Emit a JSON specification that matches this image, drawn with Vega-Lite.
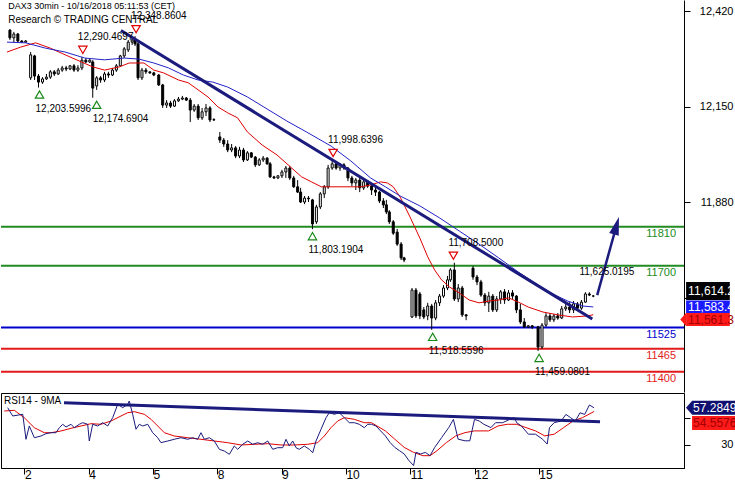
{
"$schema":"https://vega.github.io/schema/vega-lite/v6.json",
"padding":0,
"spacing":0,
"background":"white",
"config":{"font":"Liberation Sans","view":{"stroke":null},"axis":{"grid":false,"domainColor":"#000","tickColor":"#000","labelColor":"#000","labelFont":"Liberation Sans","labelFontSize":11}},
"resolve":{"scale":{"x":"independent","y":"independent","color":"independent"}},
"datasets":{
"candles":[
{"t":-0.302,"o":12366,"h":12369,"l":12338,"c":12344},
{"t":-0.240,"o":12344,"h":12361,"l":12332,"c":12355},
{"t":-0.177,"o":12355,"h":12358,"l":12332,"c":12335},
{"t":-0.115,"o":12335,"h":12338,"l":12330,"c":12332},
{"t":-0.053,"o":12332,"h":12338,"l":12330,"c":12335},
{"t":0.025,"o":12231,"h":12304,"l":12225,"c":12296},
{"t":0.087,"o":12293,"h":12296,"l":12225,"c":12236},
{"t":0.149,"o":12236,"h":12242,"l":12203.6,"c":12219},
{"t":0.212,"o":12219,"h":12233,"l":12214,"c":12228},
{"t":0.274,"o":12228,"h":12242,"l":12225,"c":12233},
{"t":0.336,"o":12233,"h":12253,"l":12228,"c":12248},
{"t":0.398,"o":12248,"h":12253,"l":12236,"c":12242},
{"t":0.460,"o":12242,"h":12259,"l":12239,"c":12253},
{"t":0.523,"o":12253,"h":12265,"l":12248,"c":12259},
{"t":0.585,"o":12259,"h":12265,"l":12250,"c":12256},
{"t":0.647,"o":12256,"h":12267,"l":12253,"c":12265},
{"t":0.709,"o":12265,"h":12270,"l":12248,"c":12253},
{"t":0.771,"o":12253,"h":12267,"l":12248,"c":12259},
{"t":0.834,"o":12259,"h":12290.5,"l":12253,"c":12281},
{"t":0.896,"o":12281,"h":12287,"l":12273,"c":12276},
{"t":0.958,"o":12276,"h":12284,"l":12273,"c":12281},
{"t":1.005,"o":12276,"h":12281,"l":12174.7,"c":12202},
{"t":1.067,"o":12208,"h":12236,"l":12197,"c":12231},
{"t":1.129,"o":12231,"h":12236,"l":12217,"c":12225},
{"t":1.191,"o":12225,"h":12248,"l":12219,"c":12242},
{"t":1.253,"o":12242,"h":12248,"l":12231,"c":12239},
{"t":1.316,"o":12239,"h":12259,"l":12236,"c":12253},
{"t":1.378,"o":12253,"h":12270,"l":12248,"c":12265},
{"t":1.440,"o":12265,"h":12296,"l":12262,"c":12293},
{"t":1.502,"o":12293,"h":12318,"l":12287,"c":12313},
{"t":1.565,"o":12310,"h":12338,"l":12304,"c":12332},
{"t":1.627,"o":12332,"h":12346,"l":12324,"c":12338},
{"t":1.673,"o":12338,"h":12348.9,"l":12321,"c":12327},
{"t":1.720,"o":12327,"h":12332,"l":12225,"c":12231},
{"t":1.782,"o":12231,"h":12259,"l":12225,"c":12253},
{"t":1.844,"o":12253,"h":12259,"l":12242,"c":12248},
{"t":1.907,"o":12248,"h":12248,"l":12242,"c":12245},
{"t":1.969,"o":12245,"h":12248,"l":12236,"c":12239},
{"t":2.047,"o":12239,"h":12242,"l":12208,"c":12211},
{"t":2.109,"o":12211,"h":12214,"l":12146,"c":12154},
{"t":2.171,"o":12154,"h":12168,"l":12146,"c":12160},
{"t":2.233,"o":12160,"h":12166,"l":12146,"c":12151},
{"t":2.295,"o":12151,"h":12171,"l":12149,"c":12166},
{"t":2.358,"o":12166,"h":12177,"l":12163,"c":12171},
{"t":2.420,"o":12171,"h":12180,"l":12168,"c":12174},
{"t":2.482,"o":12174,"h":12177,"l":12166,"c":12168},
{"t":2.544,"o":12168,"h":12174,"l":12106,"c":12140},
{"t":2.606,"o":12140,"h":12157,"l":12135,"c":12151},
{"t":2.669,"o":12151,"h":12157,"l":12112,"c":12118},
{"t":2.731,"o":12118,"h":12146,"l":12112,"c":12135},
{"t":2.793,"o":12135,"h":12157,"l":12123,"c":12146},
{"t":2.855,"o":12146,"h":12151,"l":12106,"c":12112},
{"t":2.917,"o":12112,"h":12117,"l":12109,"c":12113},
{"t":3.011,"o":12064,"h":12078,"l":12047,"c":12055},
{"t":3.073,"o":12055,"h":12061,"l":12036,"c":12044},
{"t":3.135,"o":12044,"h":12055,"l":12021,"c":12027},
{"t":3.197,"o":12027,"h":12044,"l":12021,"c":12033},
{"t":3.260,"o":12033,"h":12038,"l":12004,"c":12010},
{"t":3.322,"o":12010,"h":12036,"l":12004,"c":12027},
{"t":3.384,"o":12027,"h":12033,"l":11993,"c":11999},
{"t":3.446,"o":11999,"h":12024,"l":11996,"c":12019},
{"t":3.508,"o":12019,"h":12021,"l":12004,"c":12007},
{"t":3.571,"o":12007,"h":12010,"l":11979,"c":11985},
{"t":3.633,"o":11985,"h":12004,"l":11982,"c":11999},
{"t":3.695,"o":11999,"h":12010,"l":11993,"c":12004},
{"t":3.757,"o":12004,"h":12007,"l":11985,"c":11988},
{"t":3.804,"o":11988,"h":11993,"l":11948,"c":11951},
{"t":3.866,"o":11951,"h":11954,"l":11945,"c":11948},
{"t":3.928,"o":11948,"h":11956,"l":11945,"c":11954},
{"t":3.991,"o":11954,"h":11971,"l":11948,"c":11965},
{"t":4.053,"o":11965,"h":11982,"l":11948,"c":11976},
{"t":4.115,"o":11976,"h":11982,"l":11942,"c":11948},
{"t":4.177,"o":11948,"h":11954,"l":11920,"c":11923},
{"t":4.239,"o":11923,"h":11942,"l":11906,"c":11908},
{"t":4.286,"o":11908,"h":11920,"l":11877,"c":11880},
{"t":4.348,"o":11880,"h":11897,"l":11874,"c":11891},
{"t":4.410,"o":11891,"h":11897,"l":11880,"c":11889},
{"t":4.473,"o":11886,"h":11889,"l":11803.2,"c":11818},
{"t":4.535,"o":11824,"h":11872,"l":11818,"c":11866},
{"t":4.597,"o":11866,"h":11908,"l":11860,"c":11903},
{"t":4.659,"o":11903,"h":11928,"l":11891,"c":11923},
{"t":4.720,"o":11923,"h":11985,"l":11917,"c":11976},
{"t":4.784,"o":11976,"h":11998.6,"l":11971,"c":11988},
{"t":4.846,"o":11988,"h":11993,"l":11971,"c":11976},
{"t":4.908,"o":11976,"h":11990,"l":11968,"c":11985},
{"t":4.970,"o":11985,"h":11990,"l":11971,"c":11976},
{"t":5.033,"o":11976,"h":11979,"l":11939,"c":11948},
{"t":5.095,"o":11948,"h":11954,"l":11925,"c":11934},
{"t":5.157,"o":11934,"h":11948,"l":11914,"c":11942},
{"t":5.219,"o":11942,"h":11951,"l":11908,"c":11920},
{"t":5.281,"o":11920,"h":11948,"l":11914,"c":11937},
{"t":5.344,"o":11937,"h":11942,"l":11920,"c":11925},
{"t":5.406,"o":11925,"h":11934,"l":11900,"c":11914},
{"t":5.468,"o":11914,"h":11923,"l":11897,"c":11908},
{"t":5.530,"o":11908,"h":11911,"l":11877,"c":11883},
{"t":5.592,"o":11883,"h":11891,"l":11863,"c":11872},
{"t":5.639,"o":11872,"h":11886,"l":11846,"c":11852},
{"t":5.686,"o":11852,"h":11857,"l":11818,"c":11824},
{"t":5.748,"o":11824,"h":11829,"l":11787,"c":11792},
{"t":5.810,"o":11795,"h":11804,"l":11756,"c":11761},
{"t":5.872,"o":11761,"h":11767,"l":11716,"c":11722},
{"t":5.919,"o":11722,"h":11725,"l":11710,"c":11716},
{"t":6.044,"o":11555,"h":11637,"l":11552,"c":11631},
{"t":6.106,"o":11631,"h":11637,"l":11552,"c":11558},
{"t":6.168,"o":11620,"h":11626,"l":11549,"c":11558},
{"t":6.230,"o":11575,"h":11583,"l":11549,"c":11555},
{"t":6.292,"o":11558,"h":11595,"l":11546,"c":11586},
{"t":6.355,"o":11586,"h":11592,"l":11518.6,"c":11552},
{"t":6.417,"o":11552,"h":11603,"l":11546,"c":11595},
{"t":6.479,"o":11595,"h":11620,"l":11586,"c":11614},
{"t":6.541,"o":11614,"h":11645,"l":11609,"c":11637},
{"t":6.604,"o":11637,"h":11671,"l":11631,"c":11660},
{"t":6.650,"o":11660,"h":11693,"l":11654,"c":11688},
{"t":6.712,"o":11688,"h":11708.5,"l":11600,"c":11606},
{"t":6.774,"o":11606,"h":11648,"l":11597,"c":11637},
{"t":6.836,"o":11637,"h":11643,"l":11555,"c":11561},
{"t":6.898,"o":11561,"h":11563,"l":11546,"c":11558},
{"t":7.007,"o":11693,"h":11699,"l":11660,"c":11668},
{"t":7.070,"o":11668,"h":11674,"l":11645,"c":11654},
{"t":7.132,"o":11654,"h":11660,"l":11612,"c":11617},
{"t":7.194,"o":11617,"h":11623,"l":11586,"c":11595},
{"t":7.256,"o":11595,"h":11626,"l":11569,"c":11614},
{"t":7.319,"o":11614,"h":11620,"l":11569,"c":11575},
{"t":7.381,"o":11575,"h":11614,"l":11569,"c":11606},
{"t":7.443,"o":11606,"h":11631,"l":11592,"c":11626},
{"t":7.505,"o":11626,"h":11634,"l":11592,"c":11603},
{"t":7.567,"o":11603,"h":11631,"l":11600,"c":11623},
{"t":7.630,"o":11623,"h":11631,"l":11606,"c":11614},
{"t":7.692,"o":11614,"h":11617,"l":11566,"c":11575},
{"t":7.754,"o":11575,"h":11592,"l":11535,"c":11541},
{"t":7.816,"o":11541,"h":11552,"l":11524,"c":11527},
{"t":7.879,"o":11527,"h":11532,"l":11524,"c":11530},
{"t":7.941,"o":11530,"h":11532,"l":11521,"c":11527},
{"t":8.034,"o":11527,"h":11530,"l":11459.1,"c":11470},
{"t":8.096,"o":11470,"h":11538,"l":11465,"c":11532},
{"t":8.159,"o":11532,"h":11566,"l":11527,"c":11558},
{"t":8.221,"o":11558,"h":11566,"l":11541,"c":11547},
{"t":8.283,"o":11547,"h":11563,"l":11541,"c":11558},
{"t":8.345,"o":11558,"h":11566,"l":11547,"c":11552},
{"t":8.407,"o":11552,"h":11586,"l":11549,"c":11578},
{"t":8.470,"o":11578,"h":11595,"l":11572,"c":11583},
{"t":8.532,"o":11583,"h":11597,"l":11566,"c":11575},
{"t":8.594,"o":11575,"h":11600,"l":11566,"c":11592},
{"t":8.656,"o":11592,"h":11597,"l":11572,"c":11580},
{"t":8.718,"o":11580,"h":11603,"l":11575,"c":11597},
{"t":8.781,"o":11597,"h":11625,"l":11595,"c":11620},
{"t":8.843,"o":11620,"h":11625.0,"l":11614,"c":11617},
{"t":8.905,"o":11614.2,"h":11617,"l":11611,"c":11614.2}
],
"ma20":[
{"t":-0.348,"v":12304},{"t":-0.131,"v":12318},{"t":0.103,"v":12330},{"t":0.336,"v":12315},{"t":0.647,"v":12290},{"t":1.005,"v":12262},{"t":1.191,"v":12253},{"t":1.425,"v":12262},{"t":1.580,"v":12273},{"t":1.813,"v":12273},{"t":1.969,"v":12253},{"t":2.124,"v":12245},{"t":2.358,"v":12225},{"t":2.513,"v":12217},{"t":2.669,"v":12197},{"t":2.824,"v":12177},{"t":2.980,"v":12149},{"t":3.135,"v":12132},{"t":3.291,"v":12118},{"t":3.446,"v":12078},{"t":3.680,"v":12041},{"t":3.913,"v":12013},{"t":4.146,"v":11976},{"t":4.302,"v":11951},{"t":4.457,"v":11937},{"t":4.613,"v":11923},{"t":5.002,"v":11923},{"t":5.235,"v":11923},{"t":5.390,"v":11928},{"t":5.546,"v":11937},{"t":5.654,"v":11934},{"t":5.748,"v":11923},{"t":5.857,"v":11894},{"t":6.012,"v":11838},{"t":6.168,"v":11778},{"t":6.292,"v":11725},{"t":6.401,"v":11688},{"t":6.510,"v":11660},{"t":6.634,"v":11640},{"t":6.790,"v":11623},{"t":6.946,"v":11603},{"t":7.101,"v":11595},{"t":7.257,"v":11600},{"t":7.412,"v":11603},{"t":7.568,"v":11609},{"t":7.723,"v":11597},{"t":7.879,"v":11583},{"t":8.110,"v":11569},{"t":8.345,"v":11561},{"t":8.578,"v":11555},{"t":8.812,"v":11558},{"t":8.905,"v":11561.3}
],
"ma50":[
{"t":-0.348,"v":12332},{"t":-0.053,"v":12330},{"t":0.258,"v":12315},{"t":0.569,"v":12304},{"t":0.880,"v":12287},{"t":1.191,"v":12282},{"t":1.502,"v":12287},{"t":1.736,"v":12284},{"t":1.969,"v":12273},{"t":2.202,"v":12259},{"t":2.435,"v":12239},{"t":2.669,"v":12225},{"t":2.902,"v":12219},{"t":3.135,"v":12205},{"t":3.446,"v":12177},{"t":3.757,"v":12143},{"t":4.068,"v":12109},{"t":4.379,"v":12078},{"t":4.768,"v":12038},{"t":5.079,"v":11996},{"t":5.390,"v":11948},{"t":5.623,"v":11923},{"t":5.857,"v":11897},{"t":6.168,"v":11869},{"t":6.479,"v":11835},{"t":6.790,"v":11798},{"t":7.101,"v":11761},{"t":7.412,"v":11722},{"t":7.723,"v":11682},{"t":8.034,"v":11645},{"t":8.266,"v":11620},{"t":8.501,"v":11600},{"t":8.734,"v":11586},{"t":8.905,"v":11583.4}
],
"trend":[{"t":1.45,"v":12365},{"t":8.89,"v":11549.3}],
"arrow":[{"t":8.967,"v":11617},{"t":9.271,"v":11813}],
"head":[{"t":9.271,"v":11813}],
"levels":[{"v":11810,"name":"11810"},{"v":11700,"name":"11700"},{"v":11525,"name":"11525"},{"v":11465,"name":"11465"},{"v":11400,"name":"11400"}],
"pivots":[
{"t":0.849,"v":12290.4697,"k":"H","txt":"12,290.4697"},
{"t":1.689,"v":12348.8604,"k":"H","txt":"12,348.8604"},
{"t":4.799,"v":11998.6396,"k":"H","txt":"11,998.6396"},
{"t":6.697,"v":11708.5,"k":"H","txt":"11,708.5000"},
{"t":8.765,"v":11625.0195,"k":"N","txt":"11,625.0195"},
{"t":0.165,"v":12203.5996,"k":"L","txt":"12,203.5996"},
{"t":1.067,"v":12174.6904,"k":"L","txt":"12,174.6904"},
{"t":4.473,"v":11803.1904,"k":"L","txt":"11,803.1904"},
{"t":6.370,"v":11518.5596,"k":"L","txt":"11,518.5596"},
{"t":8.050,"v":11459.0801,"k":"L","txt":"11,459.0801"}
],
"notes":[{"k":"head","t":-0.33,"v":12434,"txt":"DAX3 30min - 10/16/2018 05:11:53 (CET)"},{"k":"src","t":-0.33,"v":12394.6,"txt":"Research © TRADING CENTRAL"}],
"ptags":[{"k":"close","v":11614.2,"txt":"11,614.2"},{"k":"ma50","v":11583.4,"txt":"11,583.4"},{"k":"ma20","v":11561.3,"txt":"11,561.3"}],
"rsinote":[{"t":-0.317,"v":62.3,"txt":"RSI14 - 9MA"}],
"rsi":[
{"t":-0.260,"v":57.35},{"t":-0.182,"v":51.25},{"t":-0.026,"v":52.5},{"t":0.025,"v":34.12},{"t":0.076,"v":43.9},{"t":0.154,"v":35.29},{"t":0.258,"v":36.54},{"t":0.336,"v":38.24},{"t":0.414,"v":38.97},{"t":0.491,"v":38.97},{"t":0.543,"v":42.65},{"t":0.596,"v":45.15},{"t":0.647,"v":43.16},{"t":0.725,"v":45.15},{"t":0.776,"v":42.65},{"t":0.854,"v":45.15},{"t":0.907,"v":46.32},{"t":0.984,"v":45.15},{"t":1.009,"v":32.87},{"t":1.062,"v":45.15},{"t":1.140,"v":43.9},{"t":1.218,"v":46.32},{"t":1.295,"v":43.9},{"t":1.373,"v":50},{"t":1.451,"v":59.85},{"t":1.529,"v":57.35},{"t":1.607,"v":59.85},{"t":1.631,"v":62.28},{"t":1.684,"v":52.5},{"t":1.736,"v":41.47},{"t":1.787,"v":45.15},{"t":1.840,"v":43.9},{"t":1.918,"v":45.15},{"t":1.995,"v":38.97},{"t":2.073,"v":35.29},{"t":2.124,"v":31.62},{"t":2.229,"v":32.87},{"t":2.331,"v":34.12},{"t":2.435,"v":35.29},{"t":2.540,"v":34.12},{"t":2.617,"v":35.29},{"t":2.695,"v":34.12},{"t":2.746,"v":38.97},{"t":2.798,"v":34.12},{"t":2.876,"v":35.29},{"t":2.953,"v":32.87},{"t":3.031,"v":26.76},{"t":3.109,"v":25.51},{"t":3.187,"v":23.09},{"t":3.264,"v":29.19},{"t":3.317,"v":26.76},{"t":3.395,"v":30.44},{"t":3.473,"v":32.87},{"t":3.551,"v":30.44},{"t":3.628,"v":31.62},{"t":3.706,"v":30.44},{"t":3.784,"v":32.87},{"t":3.862,"v":26.76},{"t":3.939,"v":27.94},{"t":4.017,"v":27.94},{"t":4.068,"v":34.12},{"t":4.120,"v":29.19},{"t":4.173,"v":32.87},{"t":4.224,"v":27.94},{"t":4.275,"v":26.76},{"t":4.353,"v":29.19},{"t":4.431,"v":26.76},{"t":4.484,"v":24.26},{"t":4.535,"v":32.87},{"t":4.613,"v":41.47},{"t":4.691,"v":50},{"t":4.742,"v":53.68},{"t":4.820,"v":52.5},{"t":4.897,"v":53.68},{"t":4.975,"v":50},{"t":5.053,"v":46.32},{"t":5.131,"v":46.32},{"t":5.208,"v":45.15},{"t":5.286,"v":42.65},{"t":5.339,"v":45.15},{"t":5.397,"v":45.15},{"t":5.468,"v":43.9},{"t":5.541,"v":40.22},{"t":5.614,"v":36.62},{"t":5.687,"v":31.76},{"t":5.760,"v":28.16},{"t":5.834,"v":25.74},{"t":5.907,"v":23.31},{"t":5.980,"v":18.46},{"t":6.053,"v":14.78},{"t":6.089,"v":24.49},{"t":6.162,"v":23.31},{"t":6.235,"v":24.49},{"t":6.308,"v":22.06},{"t":6.381,"v":28.16},{"t":6.490,"v":35.44},{"t":6.599,"v":42.72},{"t":6.672,"v":48.75},{"t":6.745,"v":34.19},{"t":6.854,"v":33.01},{"t":6.927,"v":33.01},{"t":7.000,"v":48.75},{"t":7.073,"v":47.57},{"t":7.146,"v":45.15},{"t":7.255,"v":42.72},{"t":7.328,"v":46.32},{"t":7.437,"v":46.32},{"t":7.547,"v":48.75},{"t":7.621,"v":50},{"t":7.656,"v":46.32},{"t":7.729,"v":43.9},{"t":7.838,"v":37.87},{"t":7.949,"v":37.87},{"t":8.058,"v":34.19},{"t":8.131,"v":30.59},{"t":8.166,"v":42.72},{"t":8.239,"v":46.32},{"t":8.348,"v":47.57},{"t":8.421,"v":52.43},{"t":8.495,"v":50},{"t":8.568,"v":47.57},{"t":8.641,"v":53.6},{"t":8.714,"v":52.43},{"t":8.787,"v":59.34},{"t":8.860,"v":57.28}
],
"rsima":[
{"t":-0.313,"v":54.93},{"t":-0.157,"v":55.44},{"t":-0.002,"v":50},{"t":0.154,"v":42.65},{"t":0.309,"v":38.97},{"t":0.414,"v":38.97},{"t":0.569,"v":40.22},{"t":0.725,"v":42.21},{"t":0.880,"v":43.9},{"t":1.036,"v":45.59},{"t":1.191,"v":45.15},{"t":1.347,"v":47.57},{"t":1.502,"v":51.25},{"t":1.607,"v":53.68},{"t":1.709,"v":54.41},{"t":1.865,"v":52.5},{"t":1.969,"v":48.82},{"t":2.073,"v":43.9},{"t":2.176,"v":38.97},{"t":2.331,"v":36.54},{"t":2.540,"v":35.29},{"t":2.746,"v":34.12},{"t":2.953,"v":32.87},{"t":3.162,"v":31.62},{"t":3.369,"v":29.93},{"t":3.575,"v":30.44},{"t":3.784,"v":30.88},{"t":3.991,"v":29.93},{"t":4.197,"v":29.93},{"t":4.406,"v":30.44},{"t":4.561,"v":31.62},{"t":4.664,"v":36.54},{"t":4.768,"v":42.65},{"t":4.872,"v":47.57},{"t":4.975,"v":50},{"t":5.131,"v":48.82},{"t":5.286,"v":46.32},{"t":5.397,"v":46.32},{"t":5.614,"v":40.29},{"t":5.760,"v":34.19},{"t":5.907,"v":28.16},{"t":6.053,"v":24.49},{"t":6.197,"v":22.06},{"t":6.308,"v":22.06},{"t":6.417,"v":25.74},{"t":6.563,"v":31.76},{"t":6.709,"v":36.62},{"t":6.854,"v":39.04},{"t":7.000,"v":40.29},{"t":7.219,"v":40.29},{"t":7.365,"v":43.9},{"t":7.510,"v":45.15},{"t":7.656,"v":45.15},{"t":7.802,"v":42.72},{"t":7.949,"v":40.29},{"t":8.093,"v":36.62},{"t":8.239,"v":37.87},{"t":8.386,"v":42.72},{"t":8.532,"v":47.57},{"t":8.678,"v":50},{"t":8.860,"v":54.56}
],
"rsitrend":[{"t":0.616,"v":61.03},{"t":8.952,"v":47.06}],
"rtags":[{"k":"rsi","v":57.2849,"txt":"57.2849"},{"k":"ma","v":54.5576,"txt":"54.5576"}]
},
"vconcat":[
{
"width":683,"height":392,
"resolve":{"axis":{"x":"independent","y":"independent"}},
"layer":[
{"data":{"name":"levels"},"mark":{"type":"rule","strokeWidth":2},
 "encoding":{
  "y":{"field":"v","type":"quantitative","scale":{"domain":[11342.9,12451.1],"nice":false,"zero":false},
   "axis":{"orient":"right","values":[11610,11880,12150,12420],"format":",d","labelExpr":"datum.value == 11610 ? '' : datum.label","tickSize":6,"labelAlign":"right","labelPadding":43,"title":null,"domain":true}},
  "color":{"field":"name","type":"nominal","scale":{"domain":["11810","11700","11525","11465","11400"],"range":["#228b22","#228b22","#0000cd","#e31a1a","#e31a1a"]},"legend":null}}},
{"data":{"name":"levels"},"mark":{"type":"text","align":"right","baseline":"middle","dy":7,"fontSize":11},
 "encoding":{"x":{"datum":10.211,"type":"quantitative","scale":{"domain":[-0.364,10.258],"nice":false,"zero":false},"axis":null},
  "y":{"field":"v","type":"quantitative","axis":null},
  "text":{"field":"name"},
  "color":{"field":"name","type":"nominal","legend":null}}},
{"data":{"name":"candles"},"mark":{"type":"rule","color":"#000","strokeWidth":1},
 "encoding":{"x":{"field":"t","type":"quantitative","axis":null},"y":{"field":"l","type":"quantitative","axis":null},"y2":{"field":"h"}}},
{"data":{"name":"candles"},"mark":{"type":"bar","size":2,"stroke":"#000","strokeWidth":1},
 "encoding":{"x":{"field":"t","type":"quantitative","axis":null},"y":{"field":"o","type":"quantitative","axis":null},"y2":{"field":"c"},
  "fill":{"condition":{"test":"datum.c >= datum.o","value":"#ffffff"},"value":"#000000"}}},
{"data":{"name":"ma20"},"mark":{"type":"line","color":"#e00000","strokeWidth":1},
 "encoding":{"x":{"field":"t","type":"quantitative","axis":null},"y":{"field":"v","type":"quantitative","axis":null}}},
{"data":{"name":"ma50"},"mark":{"type":"line","color":"#2222c8","strokeWidth":1},
 "encoding":{"x":{"field":"t","type":"quantitative","axis":null},"y":{"field":"v","type":"quantitative","axis":null}}},
{"data":{"name":"trend"},"mark":{"type":"line","color":"#1b1b7e","strokeWidth":3},
 "encoding":{"x":{"field":"t","type":"quantitative","axis":null},"y":{"field":"v","type":"quantitative","axis":null}}},
{"data":{"name":"arrow"},"mark":{"type":"line","color":"#1b1b7e","strokeWidth":2.5},
 "encoding":{"x":{"field":"t","type":"quantitative","axis":null},"y":{"field":"v","type":"quantitative","axis":null}}},
{"data":{"name":"head"},"mark":{"type":"point","shape":"M0,-1L0.55,1L-0.55,1Z","size":324,"filled":true,"color":"#1b1b7e","opacity":1,"angle":16},
 "encoding":{"x":{"field":"t","type":"quantitative","axis":null},"y":{"field":"v","type":"quantitative","axis":null}}},
{"data":{"name":"pivots"},"transform":[{"filter":"datum.k == 'H'"}],"mark":{"type":"point","shape":"triangle-down","size":70,"filled":false,"color":"#e00000","strokeWidth":1.2,"opacity":1,"yOffset":-7},
 "encoding":{"x":{"field":"t","type":"quantitative","axis":null},"y":{"field":"v","type":"quantitative","axis":null}}},
{"data":{"name":"pivots"},"transform":[{"filter":"datum.k == 'L'"}],"mark":{"type":"point","shape":"triangle-up","size":70,"filled":false,"color":"#1a8a1a","strokeWidth":1.2,"opacity":1,"yOffset":7},
 "encoding":{"x":{"field":"t","type":"quantitative","axis":null},"y":{"field":"v","type":"quantitative","axis":null}}},
{"data":{"name":"pivots"},"transform":[{"filter":"datum.k != 'L'"}],"mark":{"type":"text","align":"left","baseline":"middle","dx":-5,"dy":-20,"fontSize":10,"color":"#000"},
 "encoding":{"x":{"field":"t","type":"quantitative","axis":null},"y":{"field":"v","type":"quantitative","axis":null},"text":{"field":"txt"}}},
{"data":{"name":"pivots"},"transform":[{"filter":"datum.k == 'L'"}],"mark":{"type":"text","align":"left","baseline":"middle","dx":-4,"dy":21,"fontSize":10,"color":"#000"},
 "encoding":{"x":{"field":"t","type":"quantitative","axis":null},"y":{"field":"v","type":"quantitative","axis":null},"text":{"field":"txt"}}},
{"data":{"name":"notes"},"transform":[{"filter":"datum.k == 'head'"}],"mark":{"type":"text","align":"left","baseline":"middle","fontSize":9,"color":"#000"},
 "encoding":{"x":{"field":"t","type":"quantitative","axis":null},"y":{"field":"v","type":"quantitative","axis":null},"text":{"field":"txt"}}},
{"data":{"name":"notes"},"transform":[{"filter":"datum.k == 'src'"}],"mark":{"type":"text","align":"left","baseline":"middle","fontSize":10,"color":"#000"},
 "encoding":{"x":{"field":"t","type":"quantitative","axis":null},"y":{"field":"v","type":"quantitative","axis":null},"text":{"field":"txt"}}},
{"data":{"name":"ptags"},"transform":[{"filter":"datum.k == 'close'"}],"mark":{"type":"rect","color":"#000000","yOffset":-14,"y2Offset":4},
 "encoding":{"x":{"datum":10.37,"type":"quantitative","axis":null},"x2":{"datum":11.06},"y":{"field":"v","type":"quantitative","axis":null},"y2":{"field":"v"}}},
{"data":{"name":"ptags"},"transform":[{"filter":"datum.k == 'ma50'"}],"mark":{"type":"rect","color":"#1a1aff","yOffset":-6.5,"y2Offset":6},
 "encoding":{"x":{"datum":10.37,"type":"quantitative","axis":null},"x2":{"datum":11.06},"y":{"field":"v","type":"quantitative","axis":null},"y2":{"field":"v"}}},
{"data":{"name":"ptags"},"transform":[{"filter":"datum.k == 'ma20'"}],"mark":{"type":"rect","color":"#ff1a1a","yOffset":-1.7,"y2Offset":11.3},
 "encoding":{"x":{"datum":10.37,"type":"quantitative","axis":null},"x2":{"datum":11.06},"y":{"field":"v","type":"quantitative","axis":null},"y2":{"field":"v"}}},
{"data":{"name":"ptags"},"transform":[{"filter":"datum.k == 'ma20'"}],"mark":{"type":"point","shape":"M-0.43,0L0.45,-1L0.45,1Z","size":169,"filled":true,"color":"#ff1a1a","opacity":1,"yOffset":4.8},
 "encoding":{"x":{"datum":10.322,"type":"quantitative","axis":null},"y":{"field":"v","type":"quantitative","axis":null}}},
{"data":{"name":"ptags"},"transform":[{"filter":"datum.k == 'close'"}],"mark":{"type":"text","align":"left","baseline":"middle","color":"#ffffff","fontSize":12,"dx":2,"dy":-5},
 "encoding":{"x":{"datum":10.37,"type":"quantitative","axis":null},"y":{"field":"v","type":"quantitative","axis":null},"text":{"field":"txt"}}},
{"data":{"name":"ptags"},"transform":[{"filter":"datum.k == 'ma50'"}],"mark":{"type":"text","align":"left","baseline":"middle","color":"#ffffff","fontSize":12,"dx":2,"dy":0},
 "encoding":{"x":{"datum":10.37,"type":"quantitative","axis":null},"y":{"field":"v","type":"quantitative","axis":null},"text":{"field":"txt"}}},
{"data":{"name":"ptags"},"transform":[{"filter":"datum.k == 'ma20'"}],"mark":{"type":"text","align":"left","baseline":"middle","color":"#a00000","fontSize":12,"dx":2,"dy":4.8},
 "encoding":{"x":{"datum":10.37,"type":"quantitative","axis":null},"y":{"field":"v","type":"quantitative","axis":null},"text":{"field":"txt"}}}
]
},
{
"width":683,"height":75,
"view":{"stroke":"#000","strokeWidth":1},
"resolve":{"axis":{"x":"independent","y":"independent"}},
"layer":[
{"data":{"name":"rsima"},"mark":{"type":"line","color":"#e00000","strokeWidth":1},
 "encoding":{
  "x":{"field":"t","type":"quantitative","scale":{"domain":[-0.364,10.258],"nice":false,"zero":false},
   "axis":{"orient":"bottom","values":[0,1,2,3,4,5,6,7,8],"labelExpr":"['2','4','5','8','9','10','11','12','15'][datum.value]","tickSize":6,"labelAlign":"left","labelDx":3,"labelPadding":-5,"labelBaseline":"top","labelFontSize":12,"labelFlush":false,"labelOverlap":false,"title":null}},
  "y":{"field":"v","type":"quantitative","scale":{"domain":[13.01,68.16],"nice":false,"zero":false},
   "axis":{"orient":"right","values":[30,50],"labelExpr":"datum.value == 30 ? '30' : ''","tickSize":6,"labelAlign":"right","labelPadding":43,"title":null}}}},
{"data":{"name":"rsi"},"mark":{"type":"line","color":"#1b1b7e","strokeWidth":1},
 "encoding":{"x":{"field":"t","type":"quantitative","axis":null},"y":{"field":"v","type":"quantitative","axis":null}}},
{"data":{"name":"rsitrend"},"mark":{"type":"line","color":"#1b1b7e","strokeWidth":3},
 "encoding":{"x":{"field":"t","type":"quantitative","axis":null},"y":{"field":"v","type":"quantitative","axis":null}}},
{"data":{"name":"rsinote"},"mark":{"type":"text","align":"left","baseline":"middle","fontSize":10,"color":"#000"},
 "encoding":{"x":{"field":"t","type":"quantitative","axis":null},"y":{"field":"v","type":"quantitative","axis":null},"text":{"field":"txt"}}},
{"data":{"name":"rtags"},"transform":[{"filter":"datum.k == 'rsi'"}],"mark":{"type":"rect","color":"#101070","yOffset":-7,"y2Offset":7},
 "encoding":{"x":{"datum":10.383,"type":"quantitative","axis":null},"x2":{"datum":11.06},"y":{"field":"v","type":"quantitative","axis":null},"y2":{"field":"v"}}},
{"data":{"name":"rtags"},"transform":[{"filter":"datum.k == 'rsi'"}],"mark":{"type":"point","shape":"M-0.43,0L0.45,-1L0.45,1Z","size":196,"filled":true,"color":"#101070","opacity":1},
 "encoding":{"x":{"datum":10.336,"type":"quantitative","axis":null},"y":{"field":"v","type":"quantitative","axis":null}}},
{"data":{"name":"rtags"},"transform":[{"filter":"datum.k == 'ma'"}],"mark":{"type":"rect","color":"#ff1a1a","yOffset":4.5,"y2Offset":18.5},
 "encoding":{"x":{"datum":10.383,"type":"quantitative","axis":null},"x2":{"datum":11.06},"y":{"field":"v","type":"quantitative","axis":null},"y2":{"field":"v"}}},
{"data":{"name":"rtags"},"transform":[{"filter":"datum.k == 'rsi'"}],"mark":{"type":"text","align":"left","baseline":"middle","color":"#ffffff","fontSize":12,"dx":1},
 "encoding":{"x":{"datum":10.383,"type":"quantitative","axis":null},"y":{"field":"v","type":"quantitative","axis":null},"text":{"field":"txt"}}},
{"data":{"name":"rtags"},"transform":[{"filter":"datum.k == 'ma'"}],"mark":{"type":"text","align":"left","baseline":"middle","color":"#a00000","fontSize":12,"dx":1,"dy":11.5},
 "encoding":{"x":{"datum":10.383,"type":"quantitative","axis":null},"y":{"field":"v","type":"quantitative","axis":null},"text":{"field":"txt"}}}
]
}
]
}
